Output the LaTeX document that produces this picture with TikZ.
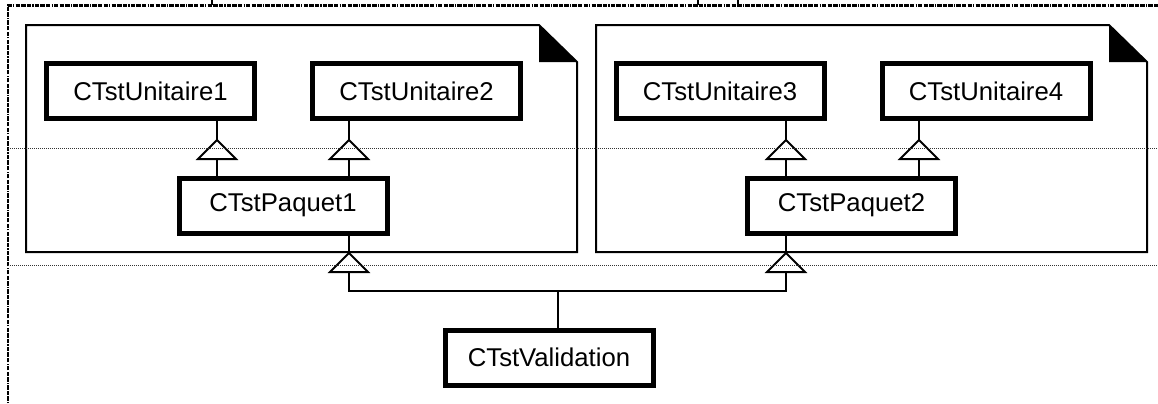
\documentclass[tikz,border=0pt]{standalone}
\usepackage{fontspec}
\setmainfont{Liberation Sans}
\begin{document}
\begin{tikzpicture}[x=0.5pt,y=-0.5pt,
  classbox/.style={draw, line width=2.5pt, fill=white, inner sep=0pt,
    minimum width=104pt, minimum height=27.5pt,
    font=\fontsize{12.85pt}{15pt}\selectfont},
  pkg/.style={draw, line width=1pt, line join=miter},
  link/.style={line width=1pt},
  guide/.style={line width=0.5pt, dash pattern=on 0.5pt off 0.5pt, black!80},
  frame/.style={line width=1.3pt, dash pattern=on 2.2pt off 0.6pt on 2.2pt off 0.6pt on 2.2pt off 0.6pt on 0.6pt off 0.6pt},
  gen/.pic={\draw[line width=1pt, fill=white, line join=miter] (0,0) -- (19,19) -- (-19,19) -- cycle;}
]
\useasboundingbox (0,0) rectangle (1158,403);
\clip (0,0) rectangle (1158,403);

% enclosing frame (continues beyond the page)
\draw[frame] (8,420) -- (8,5.3) -- (1180,5.3);
\foreach \x in {212,698,738} \draw[line width=1pt] (\x,0) -- (\x,5);

% packages with folded corner
\draw[pkg] (26,25) -- (539,25) -- (577,62) -- (577,252) -- (26,252) -- cycle;
\fill (539,25) -- (577,62) -- (539,62) -- cycle;
\draw[pkg] (596,25) -- (1109,25) -- (1147,62) -- (1147,252) -- (596,252) -- cycle;
\fill (1109,25) -- (1147,62) -- (1109,62) -- cycle;

% classes
\node[classbox] (u1) at (150.5,91) {CTstUnitaire1};
\node[classbox] (u2) at (416.5,91) {CTstUnitaire2};
\node[classbox] (u3) at (720,91) {CTstUnitaire3};
\node[classbox] (u4) at (986,91) {CTstUnitaire4};
\node[classbox] (p1) at (283,205.5) {CTstPaquet1};
\node[classbox] (p2) at (851.5,205.5) {CTstPaquet2};
\node[classbox] (v) at (549,357.5) {CTstValidation};

% generalisation tips
\coordinate (t1) at (217,140);
\coordinate (t2) at (349,140);
\coordinate (t3) at (786,140);
\coordinate (t4) at (919,140);
\coordinate (t5) at (349,253);
\coordinate (t6) at (786,253);
\coordinate (j) at (558,291);

\draw[link] (p1.north -| t1) -- (u1.south -| t1);
\draw[link] (p1.north -| t2) -- (u2.south -| t2);
\draw[link] (p2.north -| t3) -- (u3.south -| t3);
\draw[link] (p2.north -| t4) -- (u4.south -| t4);
\draw[link] (p1.south -| t5) -- (t5 |- j) -- (t6 |- j) -- (p2.south -| t6);
\draw[link] (j) -- (v.north -| j);

\foreach \t in {t1,t2,t3,t4,t5,t6} \pic at (\t) {gen};

% guide lines
\draw[guide] (8,148) -- (1158,148);
\draw[guide] (8,265) -- (1158,265);
\end{tikzpicture}
\end{document}
